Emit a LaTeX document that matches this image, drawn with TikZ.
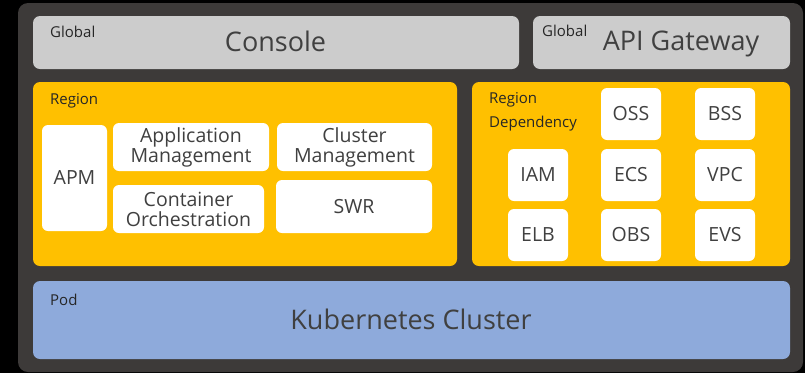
\documentclass[tikz,border=0pt]{standalone}
\usepackage{fontspec}
\setmainfont{Open Sans}
\usetikzlibrary{positioning}
\definecolor{framegrey}{HTML}{3D3A39}
\definecolor{globalgrey}{HTML}{CCCCCC}
\definecolor{regionyellow}{HTML}{FFC000}
\definecolor{podblue}{HTML}{8EAADB}
\definecolor{textgrey}{HTML}{404040}
\definecolor{tagblack}{HTML}{262626}

\begin{document}
\begin{tikzpicture}[x=1pt,y=-1pt,
  layer/.style={rounded corners=7pt,inner sep=0pt},
  tile/.style={fill=white,rounded corners=6pt,inner sep=0pt,align=center,
    text=textgrey,font=\fontsize{19.5}{20}\selectfont},
  tag/.style={anchor=west,inner sep=0pt,text=tagblack,font=\fontsize{15}{17}\selectfont},
  title/.style={anchor=base,inner sep=0pt,text=textgrey,font=\fontsize{27}{30}\selectfont}]
  \fill[black] (0,0) rectangle (805,373);
  \useasboundingbox (0,0) rectangle (805,373);
  \fill[framegrey,rounded corners=10pt] (18,3) rectangle (803,372);
  % global layer
  \node (console) [layer,fill=globalgrey,minimum width=486pt,minimum height=53pt] at (276,42.5) {};
  \node (gateway) [layer,fill=globalgrey,minimum width=257pt,minimum height=53pt] at (661.5,42.5) {};
  \node (consoletag) [tag] at (50,32) {Global};
  \node (gatewaytag) [tag] at (542,31) {Global};
  \node (consoletext) [title] at (275.5,51) {Console};
  \node (gatewaytext) [title] at (681,50.5) {API Gateway};
  % region layer
  \node (region) [layer,fill=regionyellow,minimum width=424pt,minimum height=184pt] at (245,174) {};
  \node (regiontag) [tag] at (50,100.5) {Region};
  \node (apm) [tile,minimum width=65pt,minimum height=106pt] at (74.5,178) {APM};
  \node (appmgmt) [tile,minimum width=156pt,minimum height=48pt] at (191,147) {Application\\Management};
  \node (clumgmt) [tile,minimum width=155pt,minimum height=48pt] at (354.5,147) {Cluster\\Management};
  \node (contorch) [tile,minimum width=151pt,minimum height=48pt] at (188.5,209) {Container\\Orchestration};
  \node (swr) [tile,minimum width=156pt,minimum height=53pt] at (354,206.5) {SWR};
  % region dependency layer
  \node (regdep) [layer,fill=regionyellow,minimum width=318pt,minimum height=184pt] at (631,174) {};
  \node (regdeptag) [tag,align=left,font=\fontsize{15}{24}\selectfont] at (489,111.5) {Region\\Dependency};
  \node (oss) [tile,minimum width=60pt,minimum height=52pt] at (631,114) {OSS};
  \node (bss) [tile,minimum width=60pt,minimum height=52pt] at (725,114) {BSS};
  \node (iam) [tile,minimum width=60pt,minimum height=52pt] at (538,175) {IAM};
  \node (ecs) [tile,minimum width=60pt,minimum height=52pt] at (631,175) {ECS};
  \node (vpc) [tile,minimum width=60pt,minimum height=52pt] at (725,175) {VPC};
  \node (elb) [tile,minimum width=60pt,minimum height=52pt] at (538,235) {ELB};
  \node (obs) [tile,minimum width=60pt,minimum height=52pt] at (631,235) {OBS};
  \node (evs) [tile,minimum width=60pt,minimum height=52pt] at (725,235) {EVS};
  % pod layer
  \node (pod) [layer,fill=podblue,minimum width=757pt,minimum height=78pt] at (411.5,320) {};
  \node (podtag) [tag] at (50,299.5) {Pod};
  \node (k8s) [title] at (411,329) {Kubernetes Cluster};
\end{tikzpicture}
\end{document}
